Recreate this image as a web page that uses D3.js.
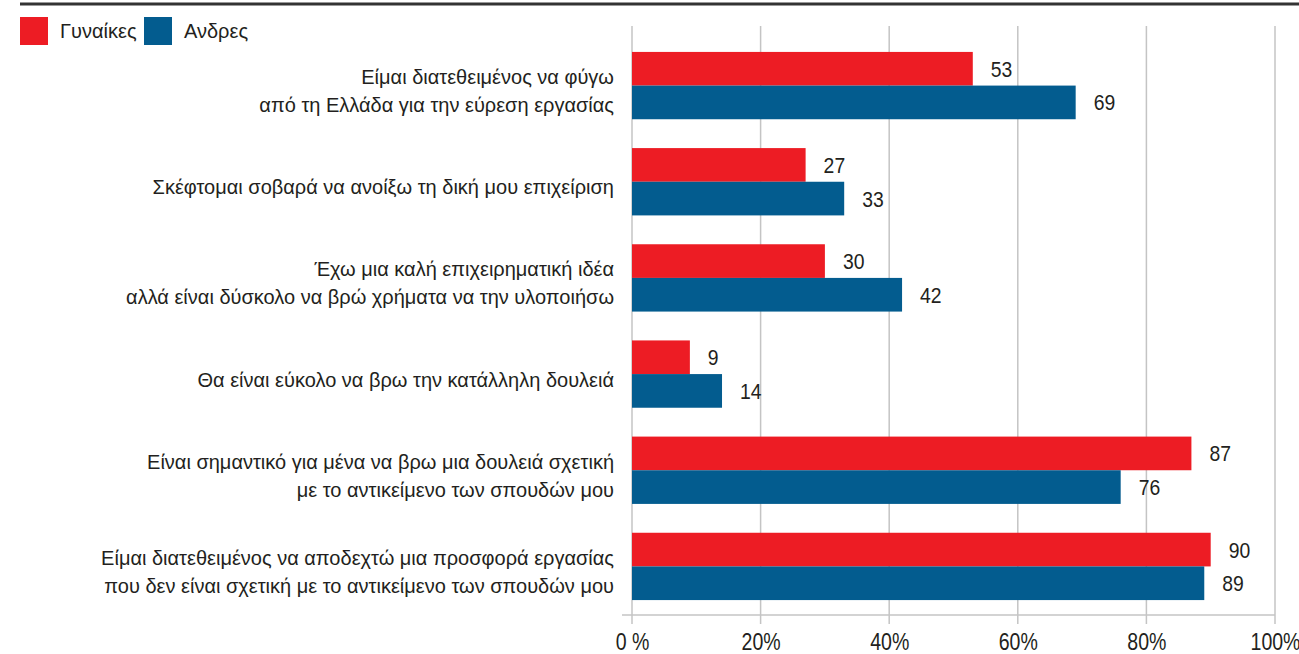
<!DOCTYPE html>
<html>
<head>
<meta charset="utf-8">
<script src="https://cdn.jsdelivr.net/npm/d3@7"></script>
<style>
  body { margin: 0; background: #fff; }
  svg { display: block; font-family: "Liberation Sans", Arial, sans-serif; }
</style>
</head>
<body>
<div id="chart"></div>
<script>
var categories = [
    "Είμαι διατεθειμένος να φύγω\nαπό τη Ελλάδα για την εύρεση εργασίας",
    "Σκέφτομαι σοβαρά να ανοίξω τη δική μου επιχείριση",
    "Έχω μια καλή επιχειρηματική ιδέα\nαλλά είναι δύσκολο να βρώ χρήματα να την υλοποιήσω",
    "Θα είναι εύκολο να βρω την κατάλληλη δουλειά",
    "Είναι σημαντικό για μένα να βρω μια δουλειά σχετική\nμε το αντικείμενο των σπουδών μου",
    "Είμαι διατεθειμένος να αποδεχτώ μια προσφορά εργασίας\nπου δεν είναι σχετική με το αντικείμενο των σπουδών μου"
];
var series = ["Γυναίκες", "Ανδρες"];
var women = [53, 27, 30, 9, 87, 90];
var men = [69, 33, 42, 14, 76, 89];
var tickValues = [0, 20, 40, 60, 80, 100];
var tickLabels = ["0 %", "20%", "40%", "60%", "80%", "100%"];

var colors = {"Γυναίκες": "#ed1c24", "Ανδρες": "#035c8f"};
var textColor = "#231f20";

var width = 1299, height = 654;

var svg = d3.select('#chart')
    .append('svg')
        .attr('width', width)
        .attr('height', height);

var x = d3.scaleLinear().domain([0, 100]).range([632, 1275]);

var y = d3.scaleBand()
    .domain(categories)
    .range([37.5, 614.5])
    .paddingInner(0.3)
    .paddingOuter(0.15);

var ySub = d3.scaleBand().domain(series).range([0, y.bandwidth()]);

// top rule
svg.append('line')
    .attr('x1', 20).attr('x2', width)
    .attr('y1', 4).attr('y2', 4)
    .attr('stroke', '#333').attr('stroke-width', 3);

// legend
var legend = svg.append('g').attr('class', 'legend');
var legendX = [20, 144];
series.forEach((s, i) => {
    legend.append('rect')
        .attr('x', legendX[i]).attr('y', 17)
        .attr('width', 28).attr('height', 28)
        .attr('fill', colors[s]);
    legend.append('text')
        .attr('x', legendX[i] + 40).attr('y', 38)
        .attr('font-size', 20)
        .attr('fill', textColor)
        .text(s);
});

// gridlines
svg.append('g').selectAll('line')
    .data(tickValues)
    .enter().append('line')
        .attr('x1', d => x(d)).attr('x2', d => x(d))
        .attr('y1', 26).attr('y2', 624)
        .attr('stroke', '#c4c4c4').attr('stroke-width', 1.5);

// bottom axis line
svg.append('line')
    .attr('x1', 622).attr('x2', x(100))
    .attr('y1', 615).attr('y2', 615)
    .attr('stroke', '#c4c4c4').attr('stroke-width', 1.5);

// tick labels (condensed look)
var axis = d3.axisBottom(x)
    .tickValues(tickValues)
    .tickSize(0)
    .tickPadding(0)
    .tickFormat((d, i) => tickLabels[i]);

var gx = svg.append('g')
    .attr('transform', 'translate(0,650)')
    .call(axis);
gx.select('.domain').remove();
gx.selectAll('text')
    .attr('font-size', 23)
    .attr('fill', textColor)
    .attr('dy', null)
    .attr('y', 0)
    .attr('transform', 'scale(0.85,1)');

// bars
var rows = categories.map((c, i) => ({cat: c, values: [
    {key: series[0], value: women[i]},
    {key: series[1], value: men[i]}
]}));

var groups = svg.append('g').selectAll('g')
    .data(rows)
    .enter().append('g')
        .attr('transform', d => 'translate(0,' + y(d.cat) + ')');

groups.selectAll('rect')
    .data(d => d.values)
    .enter().append('rect')
        .attr('x', x(0))
        .attr('y', d => ySub(d.key))
        .attr('width', d => x(d.value) - x(0))
        .attr('height', ySub.bandwidth())
        .attr('fill', d => colors[d.key]);

groups.selectAll('text.value')
    .data(d => d.values)
    .enter().append('text')
        .attr('class', 'value')
        .attr('transform', d => 'translate(' + (x(d.value) + 18) + ',' +
            (ySub(d.key) + ySub.bandwidth() / 2 + 8) + ') scale(0.88,1)')
        .attr('font-size', 22)
        .attr('fill', textColor)
        .text(d => d.value);

// category labels
groups.each(function(d) {
    var lines = d.cat.split('\n');
    var mid = y.bandwidth() / 2 + 5.5;
    var t = d3.select(this).append('text')
        .attr('text-anchor', 'end')
        .attr('font-size', 20)
        .attr('fill', textColor);
    lines.forEach((l, i) => {
        t.append('tspan')
            .attr('x', 614)
            .attr('y', mid + 7 + (i - (lines.length - 1) / 2) * 28)
            .text(l);
    });
});
</script>
</body>
</html>
